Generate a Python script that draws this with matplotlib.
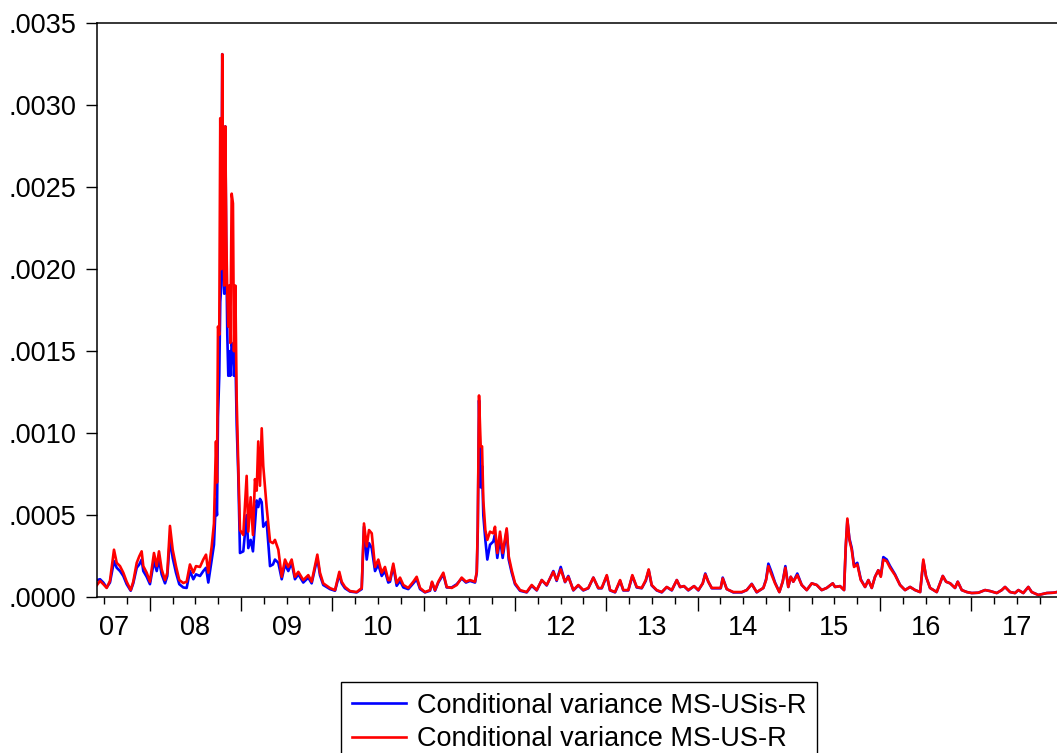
import matplotlib
matplotlib.use("Agg")
import matplotlib.pyplot as plt
import matplotlib.transforms as mtransforms
import numpy as np

plt.rcParams.update({
    'font.family': ['Liberation Sans', 'DejaVu Sans'],
    'font.size': 19.5,
})

# time in decimal years
years = [
    2007.423, 2007.456, 2007.492, 2007.529, 2007.565, 2007.609, 2007.639, 2007.675, 2007.711, 2007.748,
    2007.792, 2007.820, 2007.858, 2007.886, 2007.912, 2007.930, 2007.967, 2008.003, 2008.047, 2008.077,
    2008.102, 2008.131, 2008.168, 2008.193, 2008.222, 2008.252, 2008.288, 2008.324, 2008.368, 2008.405,
    2008.441, 2008.478, 2008.507, 2008.551, 2008.587, 2008.617, 2008.642, 2008.679, 2008.704, 2008.726,
    2008.737, 2008.748, 2008.762, 2008.773, 2008.784, 2008.795, 2008.806, 2008.817, 2008.828, 2008.839,
    2008.850, 2008.861, 2008.872, 2008.883, 2008.898, 2008.912, 2008.923, 2008.938, 2008.953, 2008.970,
    2008.989, 2009.025, 2009.062, 2009.080, 2009.106, 2009.131, 2009.153, 2009.172, 2009.189, 2009.208,
    2009.227, 2009.244, 2009.281, 2009.318, 2009.350, 2009.372, 2009.409, 2009.446, 2009.482, 2009.518,
    2009.555, 2009.591, 2009.628, 2009.682, 2009.737, 2009.774, 2009.836, 2009.865, 2009.901, 2009.975,
    2010.030, 2010.077, 2010.103, 2010.139, 2010.194, 2010.267, 2010.322, 2010.347, 2010.377, 2010.402,
    2010.432, 2010.468, 2010.504, 2010.541, 2010.577, 2010.613, 2010.632, 2010.668, 2010.705, 2010.742,
    2010.778, 2010.832, 2010.887, 2010.924, 2010.961, 2011.015, 2011.070, 2011.092, 2011.125, 2011.161,
    2011.216, 2011.253, 2011.308, 2011.363, 2011.417, 2011.464, 2011.508, 2011.563, 2011.582, 2011.593,
    2011.607, 2011.625, 2011.640, 2011.654, 2011.676, 2011.698, 2011.727, 2011.763, 2011.782, 2011.807,
    2011.837, 2011.866, 2011.910, 2011.932, 2011.965, 2012.001, 2012.056, 2012.129, 2012.184, 2012.239,
    2012.294, 2012.348, 2012.421, 2012.457, 2012.502, 2012.549, 2012.585, 2012.640, 2012.694, 2012.749,
    2012.804, 2012.859, 2012.913, 2012.951, 2013.006, 2013.042, 2013.097, 2013.152, 2013.187, 2013.242,
    2013.286, 2013.334, 2013.389, 2013.433, 2013.465, 2013.498, 2013.553, 2013.608, 2013.663, 2013.718,
    2013.773, 2013.809, 2013.852, 2013.899, 2013.962, 2014.009, 2014.057, 2014.085, 2014.118, 2014.156,
    2014.210, 2014.254, 2014.276, 2014.320, 2014.392, 2014.484, 2014.539, 2014.594, 2014.648, 2014.721,
    2014.751, 2014.776, 2014.813, 2014.849, 2014.896, 2014.933, 2014.962, 2014.994, 2015.021, 2015.049,
    2015.093, 2015.141, 2015.196, 2015.251, 2015.306, 2015.360, 2015.415, 2015.481, 2015.506, 2015.561,
    2015.605, 2015.623, 2015.641, 2015.663, 2015.689, 2015.714, 2015.750, 2015.788, 2015.835, 2015.871,
    2015.908, 2015.944, 2015.980, 2016.007, 2016.035, 2016.072, 2016.109, 2016.163, 2016.218, 2016.273,
    2016.328, 2016.383, 2016.438, 2016.473, 2016.503, 2016.547, 2016.620, 2016.686, 2016.722, 2016.767,
    2016.820, 2016.850, 2016.894, 2016.949, 2017.003, 2017.076, 2017.149, 2017.204, 2017.277, 2017.332,
    2017.368, 2017.423, 2017.477, 2017.514, 2017.568, 2017.623, 2017.660, 2017.733, 2017.825, 2017.897,
    2017.937,
]

# in units of 1e-4
var_us = [
    0.75, 1.00, 0.80, 0.57, 1.00, 2.90, 2.10, 1.90, 1.50, 0.95,
    0.44, 0.95, 2.10, 2.50, 2.80, 1.90, 1.50, 0.95, 2.70, 1.90,
    2.80, 1.70, 1.05, 1.50, 4.35, 2.90, 1.90, 1.05, 0.87, 0.95,
    2.00, 1.50, 1.90, 1.85, 2.30, 2.60, 1.50, 3.10, 4.50, 9.50,
    7.00, 16.5, 16.0, 29.2, 20.0, 33.1, 22.0, 19.0, 28.7, 22.0,
    18.5, 16.5, 19.0, 15.5, 24.6, 24.0, 15.0, 19.0, 12.0, 8.10,
    4.10, 3.80, 7.40, 4.00, 6.10, 3.80, 7.20, 6.50, 9.50, 6.80,
    10.3, 8.00, 5.50, 3.40, 3.30, 3.50, 2.90, 1.25, 2.30, 1.85,
    2.30, 1.25, 1.55, 1.05, 1.35, 0.95, 2.60, 1.50, 0.85, 0.56,
    0.44, 1.55, 0.95, 0.63, 0.38, 0.32, 0.56, 4.50, 3.10, 4.10,
    3.90, 1.85, 2.30, 1.50, 1.85, 1.05, 1.05, 2.05, 0.87, 1.20,
    0.75, 0.57, 0.95, 1.25, 0.57, 0.32, 0.44, 0.95, 0.44, 0.95,
    1.50, 0.63, 0.57, 0.75, 1.20, 0.95, 1.05, 0.95, 1.55, 4.30,
    12.3, 9.20, 9.20, 5.90, 4.10, 3.50, 4.00, 3.90, 4.30, 2.70,
    4.00, 2.70, 4.20, 2.50, 1.65, 0.87, 0.44, 0.32, 0.75, 0.44,
    1.05, 0.75, 1.55, 1.05, 1.70, 0.95, 1.25, 0.44, 0.75, 0.44,
    0.57, 1.20, 0.57, 0.57, 1.35, 0.44, 0.32, 1.05, 0.44, 0.44,
    1.35, 0.63, 0.57, 1.05, 1.70, 0.75, 0.44, 0.32, 0.63, 0.44,
    1.05, 0.63, 0.68, 0.44, 0.68, 0.44, 0.85, 1.40, 0.95, 0.57,
    0.57, 0.57, 1.15, 0.50, 0.32, 0.32, 0.44, 0.80, 0.32, 0.57,
    1.05, 1.90, 1.35, 0.85, 0.32, 0.95, 1.80, 0.63, 1.25, 0.95,
    1.35, 0.75, 0.44, 0.85, 0.75, 0.44, 0.57, 0.85, 0.63, 0.68,
    0.44, 3.10, 4.80, 3.50, 2.90, 1.85, 2.00, 1.05, 0.63, 1.05,
    0.57, 1.25, 1.65, 1.25, 2.30, 2.20, 1.80, 1.35, 0.75, 0.44,
    0.63, 0.44, 0.32, 2.30, 1.25, 0.57, 0.32, 1.30, 0.95, 0.85,
    0.57, 0.95, 0.44, 0.32, 0.26, 0.28, 0.44, 0.38, 0.26, 0.44,
    0.63, 0.32, 0.26, 0.44, 0.26, 0.63, 0.32, 0.14, 0.26, 0.28,
    0.32,
]

var_usis = [
    1.05, 1.10, 0.90, 0.60, 0.90, 2.20, 1.80, 1.60, 1.30, 0.80,
    0.40, 0.85, 1.80, 2.00, 2.30, 1.60, 1.25, 0.80, 2.20, 1.60,
    2.30, 1.40, 0.85, 1.30, 3.60, 2.40, 1.50, 0.80, 0.60, 0.57,
    1.60, 1.10, 1.40, 1.30, 1.60, 1.80, 0.90, 2.30, 3.20, 6.00,
    5.00, 11.0, 13.5, 18.0, 19.0, 33.1, 21.0, 18.5, 28.7, 21.0,
    16.0, 13.5, 15.0, 13.5, 15.5, 15.0, 13.5, 15.0, 10.5, 7.50,
    2.70, 2.80, 5.00, 3.00, 3.50, 2.80, 4.50, 5.90, 5.50, 6.00,
    5.80, 4.30, 4.60, 1.90, 2.00, 2.30, 2.10, 1.10, 2.00, 1.60,
    2.10, 1.10, 1.40, 0.90, 1.20, 0.85, 2.40, 1.35, 0.75, 0.50,
    0.40, 1.40, 0.85, 0.55, 0.35, 0.30, 0.50, 4.30, 2.30, 3.30,
    3.00, 1.60, 2.00, 1.30, 1.60, 0.90, 0.95, 1.90, 0.70, 1.00,
    0.60, 0.50, 0.85, 1.10, 0.50, 0.30, 0.40, 0.90, 0.40, 0.90,
    1.40, 0.60, 0.60, 0.80, 1.15, 0.90, 1.00, 0.90, 1.50, 4.00,
    12.0, 6.70, 8.00, 5.00, 3.50, 2.30, 3.20, 3.40, 3.80, 2.40,
    3.60, 2.40, 4.10, 2.30, 1.50, 0.80, 0.40, 0.30, 0.70, 0.42,
    1.05, 0.72, 1.60, 1.00, 1.85, 0.92, 1.30, 0.42, 0.72, 0.42,
    0.55, 1.20, 0.55, 0.55, 1.30, 0.42, 0.30, 1.00, 0.42, 0.42,
    1.30, 0.60, 0.55, 1.00, 1.65, 0.72, 0.42, 0.30, 0.62, 0.42,
    1.05, 0.62, 0.68, 0.42, 0.68, 0.42, 0.85, 1.45, 0.95, 0.55,
    0.55, 0.55, 1.20, 0.50, 0.30, 0.30, 0.44, 0.82, 0.30, 0.57,
    1.10, 2.05, 1.50, 0.90, 0.32, 0.95, 1.90, 0.63, 1.25, 0.95,
    1.45, 0.75, 0.44, 0.85, 0.75, 0.44, 0.57, 0.85, 0.63, 0.68,
    0.44, 3.00, 4.70, 3.60, 3.00, 1.95, 2.10, 1.10, 0.63, 1.05,
    0.57, 1.25, 1.65, 1.30, 2.45, 2.30, 1.90, 1.40, 0.75, 0.44,
    0.63, 0.44, 0.32, 2.20, 1.25, 0.57, 0.32, 1.30, 0.95, 0.85,
    0.57, 0.95, 0.44, 0.32, 0.26, 0.28, 0.44, 0.38, 0.26, 0.44,
    0.63, 0.32, 0.26, 0.44, 0.26, 0.63, 0.32, 0.14, 0.26, 0.28,
    0.32,
]

year_labels = ['07', '08', '09', '10', '11', '12', '13', '14', '15', '16', '17']
label_pos = [2007.61, 2008.5, 2009.5, 2010.5, 2011.5, 2012.5, 2013.5, 2014.5, 2015.5, 2016.5, 2017.5]

x = np.array(years)
us = np.array(var_us) * 1e-4
usis = np.array(var_usis) * 1e-4

fig = plt.figure(figsize=(10.57, 7.53), dpi=100)
ax = fig.add_axes([97 / 1057, 155.7 / 753, 1 - 97 / 1057, 574.3 / 753])

ax.plot(x, usis, color='#0000ff', linewidth=1.9, label='Conditional variance MS-USis-R')
ax.plot(x, us, color='#ff0000', linewidth=1.9, label='Conditional variance MS-US-R')

ax.set_xlim(2007.423, 2017.937)
ax.set_ylim(0, 0.0035)

# y axis: EViews style labels without leading zero
yt = np.arange(0, 0.00351, 0.0005)
ax.set_yticks(yt)
ax.set_yticklabels(['.' + f'{v:.4f}'.split('.')[1] for v in yt])
ax.tick_params(axis='y', direction='out', length=8, width=1, pad=7)

# x axis: long ticks at year start, short ticks at quarters
ax.set_xticks(np.arange(2008, 2018))
ax.set_xticks(np.arange(2007.5, 2017.9, 0.25), minor=True)
ax.set_xticklabels([])
ax.tick_params(axis='x', which='major', direction='out', length=10, width=1)
ax.tick_params(axis='x', which='minor', direction='out', length=5, width=1)

trans = mtransforms.blended_transform_factory(ax.transData, ax.transAxes)
for pos, lab in zip(label_pos, year_labels):
    ax.text(pos, -0.054, lab, transform=trans, ha='center', va='center')

ax.spines['right'].set_visible(False)
for s in ['left', 'top', 'bottom']:
    ax.spines[s].set_linewidth(1.1)

fig.legend(loc='upper left', bbox_to_anchor=(341 / 1057, 1 - 682 / 753),
           frameon=True, fancybox=False, edgecolor='black', framealpha=1,
           borderpad=0.4, handlelength=2.0, handletextpad=0.4, labelspacing=0.27,
           borderaxespad=0)

fig.savefig('out.png', dpi=100)
